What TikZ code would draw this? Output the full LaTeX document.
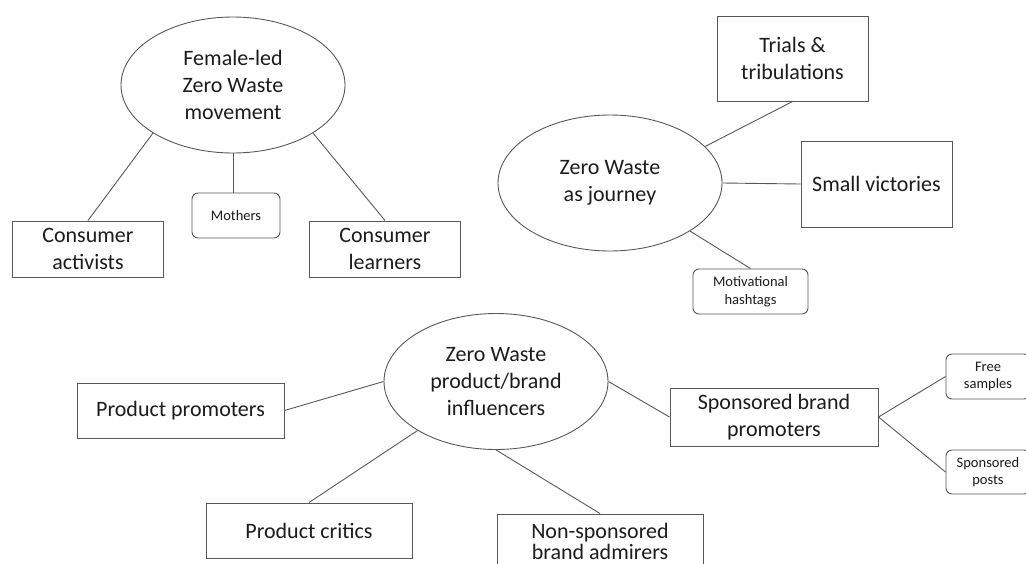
\documentclass[tikz,border=0pt]{standalone}
\usepackage{fontspec}
\setmainfont{Carlito}
\usetikzlibrary{shapes.geometric}
\definecolor{edge}{RGB}{88,88,88}
\definecolor{ink}{RGB}{28,28,28}
\tikzset{
  big/.style={font=\fontsize{22}{27}\selectfont, text=ink, align=center},
  small/.style={font=\fontsize{14.5}{17.5}\selectfont, text=ink, align=center},
  hub/.style={ellipse, draw=edge, line width=0.9pt, minimum width=224pt,
              minimum height=136pt, inner sep=0pt, big},
  card/.style={rectangle, draw=edge, line width=1pt, inner sep=0pt, big},
  tag/.style={rectangle, rounded corners=6pt, draw=edge, line width=0.9pt,
              inner sep=0pt, small},
  link/.style={draw=edge, line width=0.9pt}
}
\begin{document}
\begin{tikzpicture}[x=1pt, y=-1pt]
  \useasboundingbox (0,0) rectangle (1026,563);
  \clip (0,0) rectangle (1026,563);
  \fill[white] (0,0) rectangle (1026,563);

  % first cluster
  \node[hub] (e1) at (233,85) {Female-led\\Zero Waste\\movement};
  \node[card, minimum width=151pt, minimum height=56pt] (ca) at (88,249) {Consumer\\activists};
  \node[tag, minimum width=88pt, minimum height=45pt] (mo) at (236,215.5) {Mothers};
  \node[card, minimum width=151pt, minimum height=56pt] (cl) at (385,249) {Consumer\\learners};

  \draw[link] (e1.211) -- (ca.north);
  \draw[link] (e1.south) -- (e1.south |- mo.north);
  \draw[link] (e1.-31) -- (cl.north);

  % second cluster
  \node[hub] (e2) at (610,183) {Zero Waste\\as journey};
  \node[card, minimum width=151pt, minimum height=85pt] (tr) at (792.5,58.5) {Trials \&\\tribulations};
  \node[card, minimum width=151pt, minimum height=86pt] (sv) at (876.5,184) {Small victories};
  \node[tag, minimum width=115pt, minimum height=45pt] (mh) at (750.5,291.5) {Motivational\\hashtags};

  \draw[link] (e2.21) -- (tr.south);
  \draw[link] (e2.east) -- (sv.west);
  \draw[link] (e2.-31.5) -- (mh.north);

  % third cluster
  \node[hub] (e3) at (496,381.5) {Zero Waste\\product/brand\\influencers};
  \node[card, minimum width=207pt, minimum height=55pt] (pp) at (180.5,410.5) {Product promoters};
  \node[card, minimum width=206pt, minimum height=55pt] (pc) at (309,530.5) {Product critics};
  \node[card, minimum width=206pt, minimum height=57pt, text depth=0pt] (ns) at (600,542.5)
       {\raisebox{2pt}{\shortstack{Non-sponsored\\[-1pt]brand admirers}}};
  \node[card, minimum width=208pt, minimum height=58pt] (sbp) at (774,417) {Sponsored brand\\promoters};
  \node[tag, minimum width=84pt, minimum height=45pt] (fs) at (988,376.5) {Free\\samples};
  \node[tag, minimum width=84pt, minimum height=44pt] (sp) at (988,472) {Sponsored\\posts};

  \draw[link] (e3.west) -- (pp.east);
  \draw[link] (e3.212.6) -- (pc.north);
  \draw[link] (e3.south) -- (ns.north);
  \draw[link] (e3.east) -- (sbp.west);
  \draw[link] (sbp.east) -- (fs.west);
  \draw[link] (sbp.east) -- (sp.west);
\end{tikzpicture}
\end{document}
